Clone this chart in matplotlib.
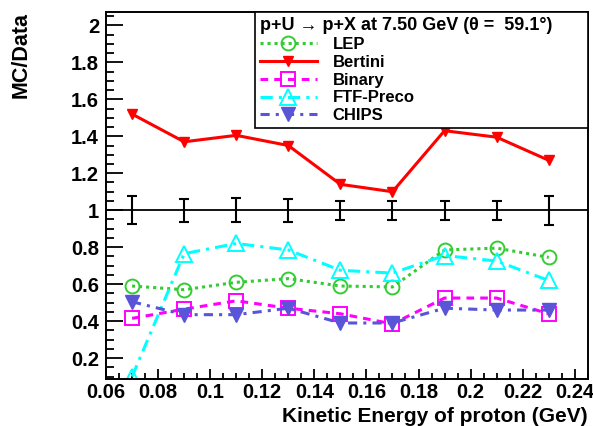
import numpy as np
import matplotlib
matplotlib.use('Agg')
import matplotlib.pyplot as plt
from matplotlib.ticker import MultipleLocator, FormatStrFormatter

# Proton kinetic energy bins (GeV)
energy = [0.07, 0.09, 0.11, 0.13, 0.15, 0.17, 0.19, 0.21, 0.23]

# Data ratio is 1 by construction, with its relative errors
data_err = [0.077, 0.063, 0.066, 0.063, 0.052, 0.052, 0.052, 0.052, 0.078]

# MC/Data ratios for each physics list
lep = [0.59, 0.57, 0.61, 0.63, 0.59, 0.585, 0.785, 0.795, 0.745]
bertini = [1.52, 1.37, 1.405, 1.35, 1.14, 1.10, 1.43, 1.395, 1.27]
binary = [0.415, 0.465, 0.51, 0.47, 0.44, 0.385, 0.525, 0.525, 0.44]
ftf = [0.10, 0.765, 0.82, 0.785, 0.675, 0.66, 0.755, 0.725, 0.62]
chips = [0.505, 0.435, 0.435, 0.47, 0.39, 0.39, 0.47, 0.46, 0.46]

legend_title = 'p+U \u2192 p+X at 7.50 GeV (\u03b8 =  59.1\u00b0)'

plt.rcParams['font.family'] = ['Liberation Sans', 'DejaVu Sans']
plt.rcParams['font.weight'] = 'bold'

fig = plt.figure(figsize=(5.93, 4.26), dpi=100)
ax = fig.add_axes([0.1788, 0.1103, 0.9916 - 0.1788, 0.9718 - 0.1103])

ax.axhline(1.0, color='black', lw=1.3, zorder=1)
ax.errorbar(energy, np.ones(len(energy)), yerr=data_err, fmt='none',
            ecolor='black', elinewidth=1.5, capsize=3.5, capthick=1.5, zorder=2)

ax.plot(energy, lep, color='#33cc33', lw=2.2, ls=(0, (1, 1.3)),
        marker='o', ms=10, mfc='none', mec='#33cc33', mew=1.4, label='LEP')
ax.plot(energy, bertini, color='red', lw=2.2, ls='-',
        marker='v', ms=7, mfc='red', mec='red', label='Bertini')
ax.plot(energy, binary, color='magenta', lw=2.2, ls=(0, (2.5, 2)),
        marker='s', ms=10, mfc='none', mec='magenta', mew=1.4, label='Binary')
ax.plot(energy, ftf, color='cyan', lw=2.2, ls=(0, (4, 2, 1, 2)),
        marker='^', ms=11, mfc='none', mec='cyan', mew=1.4, label='FTF-Preco')
ax.plot(energy, chips, color='#5954d8', lw=2.2, ls=(0, (3, 2, 1, 2)),
        marker='v', ms=10, mfc='#5954d8', mec='#5954d8', label='CHIPS')

ax.set_xlim(0.06, 0.2451)
ax.set_ylim(0.087, 2.072)

ax.xaxis.set_major_locator(MultipleLocator(0.02))
ax.xaxis.set_minor_locator(MultipleLocator(0.005))
ax.yaxis.set_major_locator(MultipleLocator(0.2))
ax.yaxis.set_minor_locator(MultipleLocator(0.05))
ax.xaxis.set_major_formatter(FormatStrFormatter('%g'))
ax.yaxis.set_major_formatter(FormatStrFormatter('%g'))

ax.tick_params(axis='both', which='both', direction='in', top=False, right=False,
               labelsize=14.5, width=1.3)
ax.tick_params(axis='x', which='major', length=7.5, pad=3)
ax.tick_params(axis='x', which='minor', length=4)
ax.tick_params(axis='y', which='major', length=12, pad=5)
ax.tick_params(axis='y', which='minor', length=6)
for lab in ax.get_xticklabels() + ax.get_yticklabels():
    lab.set_fontweight('bold')
for sp in ax.spines.values():
    sp.set_linewidth(1.4)

ax.set_xlabel('Kinetic Energy of proton (GeV)', loc='right', fontsize=15,
              fontweight='bold')
ax.xaxis.set_label_coords(1.0, -0.077)
ax.set_ylabel('MC/Data', loc='top', fontsize=15.5, fontweight='bold')
ax.yaxis.set_label_coords(-0.155, 1.0)

leg = ax.legend(title=legend_title, loc='upper left',
                bbox_to_anchor=(0.309, 0.689, 0.691, 0.311), mode='expand',
                borderaxespad=0, fancybox=False, framealpha=1, edgecolor='black',
                prop={'size': 12, 'weight': 'bold'}, title_fontsize=13,
                alignment='left', handlelength=3.4, handletextpad=0.95,
                labelspacing=0.17, borderpad=0.3, numpoints=1)
leg.get_frame().set_linewidth(1.2)
leg.get_title().set_fontweight('bold')

fig.savefig('out.png', dpi=100)
